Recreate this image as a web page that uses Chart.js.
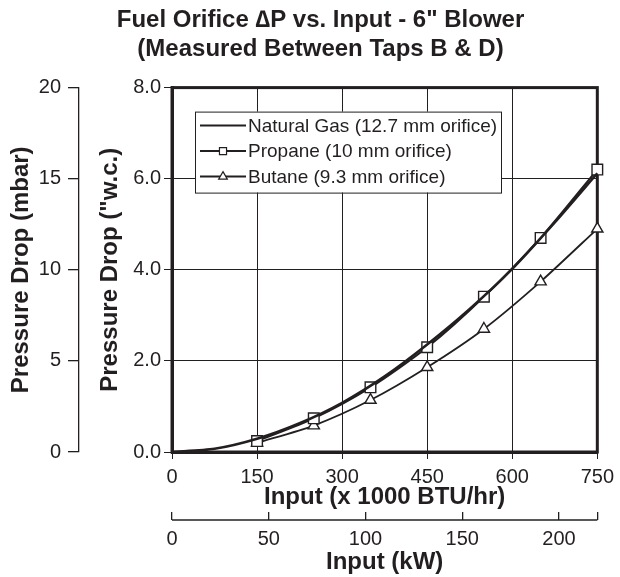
<!DOCTYPE html>
<html>
<head>
<meta charset="utf-8">
<script src="https://cdn.jsdelivr.net/npm/chart.js@4.4.1/dist/chart.umd.min.js"></script>
<style>
  body { margin: 0; background: #fff; }
</style>
</head>
<body>
<canvas id="graficoOrificio" width="620" height="577"></canvas>
<script>
// Datos (entrada en miles de BTU/hr, caida en pulgadas de columna de agua)
const gasNaturalEntrada = [0, 75, 150, 225, 300, 375, 450, 525, 600, 675, 750];
const gasNaturalCaida = [0, 0.07, 0.29, 0.63, 1.08, 1.66, 2.36, 3.14, 4.02, 5.04, 6.12];
const propanoEntrada = [150, 250, 350, 450, 550, 650, 750];
const propanoCaida = [0.24, 0.74, 1.42, 2.30, 3.41, 4.70, 6.20];
const butanoEntrada = [150, 250, 350, 450, 550, 650, 750];
const butanoCaida = [0.20, 0.58, 1.14, 1.86, 2.70, 3.74, 4.90];

const marcasKw = [0, 50, 100, 150, 200];
const etiquetas = ['Natural Gas (12.7 mm orifice)', 'Propane (10 mm orifice)', 'Butane (9.3 mm orifice)'];
const titulo = ['Fuel Orifice \u2206P vs. Input - 6" Blower', '(Measured Between Taps B & D)'];

const KW_POR_MBTU = 0.29307;   // 1000 BTU/hr -> kW
const NEGRO = '#231f20';

const puntos = (xs, ys) => xs.map((x, i) => ({ x: x, y: ys[i] }));

Chart.defaults.font.family = '"Liberation Sans", Arial, Helvetica, sans-serif';
Chart.defaults.color = NEGRO;

// Marco grueso alrededor del area de trazado
const marco = {
    id: 'marco',
    beforeDatasetsDraw(chart) {
        const { ctx, chartArea } = chart;
        ctx.save();
        ctx.strokeStyle = NEGRO;
        ctx.lineWidth = 3;
        ctx.strokeRect(chartArea.left, chartArea.top, chartArea.right - chartArea.left, chartArea.bottom - chartArea.top);
        ctx.restore();
    }
};

// Linea del eje en kW por debajo de las marcas (las marcas suben desde la linea)
const ejeKw = {
    id: 'ejeKw',
    afterDraw(chart) {
        const s = chart.scales.x2;
        const y = s.top + s.options.grid.tickLength;
        const ctx = chart.ctx;
        ctx.save();
        ctx.strokeStyle = NEGRO;
        ctx.lineWidth = 1.3;
        ctx.beginPath();
        ctx.moveTo(s.getPixelForValue(0), y);
        ctx.lineTo(s.getPixelForValue(s.max), y);
        ctx.stroke();
        ctx.restore();
    }
};

// Leyenda dentro del area de trazado
const leyendaInterna = {
    id: 'leyendaInterna',
    afterDatasetsDraw(chart) {
        const { ctx, chartArea } = chart;
        const x = chartArea.left + 23, y = chartArea.top + 24, w = 306, h = 81;
        ctx.save();
        ctx.fillStyle = '#fff';
        ctx.fillRect(x, y, w, h);
        ctx.strokeStyle = NEGRO;
        ctx.lineWidth = 1;
        ctx.strokeRect(x + 0.5, y + 0.5, w, h);
        ctx.font = '19px "Liberation Sans", Arial, sans-serif';
        ctx.textBaseline = 'middle';
        chart.data.datasets.forEach((ds, i) => {
            const cy = y + 14 + i * 25.5;
            ctx.strokeStyle = NEGRO;
            ctx.lineWidth = 2;
            ctx.beginPath();
            ctx.moveTo(x + 5, cy);
            ctx.lineTo(x + 51, cy);
            ctx.stroke();
            if (ds.pointRadius > 0) {
                ctx.fillStyle = '#fff';
                ctx.lineWidth = 1.2;
                Chart.helpers.drawPoint(ctx, { pointStyle: ds.pointStyle, radius: 5, borderWidth: 1.2 }, x + 28, cy);
            }
            ctx.fillStyle = NEGRO;
            ctx.fillText(ds.label, x + 53, cy + 1);
        });
        ctx.restore();
    }
};

// Desplaza el titulo un poco a la derecha como en el original
const tituloDesplazado = {
    id: 'tituloDesplazado',
    afterLayout(chart) {
        if (chart.titleBlock) {
            chart.titleBlock.left += 26;
        }
    }
};

const ctx = document.getElementById('graficoOrificio');
new Chart(ctx, {
    type: 'line',
    data: {
        datasets: [{
            label: etiquetas[0],
            data: puntos(gasNaturalEntrada, gasNaturalCaida),
            borderColor: NEGRO,
            borderWidth: 2.6,
            pointRadius: 0,
            tension: 0.25,
            clip: false
        }, {
            label: etiquetas[1],
            data: puntos(propanoEntrada, propanoCaida),
            borderColor: NEGRO,
            backgroundColor: '#fff',
            borderWidth: 2.2,
            pointStyle: 'rect',
            pointRadius: 7.5,
            pointBorderWidth: 1.4,
            pointBackgroundColor: '#fff',
            pointBorderColor: NEGRO,
            tension: 0.25,
            clip: false
        }, {
            label: etiquetas[2],
            data: puntos(butanoEntrada, butanoCaida),
            borderColor: NEGRO,
            backgroundColor: '#fff',
            borderWidth: 1.8,
            pointStyle: 'triangle',
            pointRadius: 6.5,
            pointBorderWidth: 1.4,
            pointBackgroundColor: '#fff',
            pointBorderColor: NEGRO,
            tension: 0.25,
            clip: false
        }]
    },
    options: {
        responsive: false,
        animation: false,
        layout: { padding: { left: 0, right: 5, top: 0, bottom: 0 } },
        plugins: {
            legend: { display: false },
            tooltip: { enabled: false },
            title: {
                display: true,
                text: titulo,
                font: { size: 24, weight: 'bold', lineHeight: 1.2 },
                color: NEGRO,
                padding: { top: 6, bottom: 24 }
            }
        },
        scales: {
            x: {
                type: 'linear',
                position: 'bottom',
                min: 0,
                max: 750,
                weight: 0,
                ticks: { stepSize: 150, font: { size: 20 }, padding: 6, maxRotation: 0 },
                grid: { color: NEGRO, lineWidth: 1, tickLength: 7 },
                border: { color: NEGRO, width: 3 },
                title: { display: true, text: 'Input (x 1000 BTU/hr)', font: { size: 24, weight: 'bold' }, padding: { top: 0, bottom: 0 } },
                afterFit(scale) { scale.height = 60; }
            },
            x2: {
                type: 'linear',
                position: 'bottom',
                min: 0,
                max: 750 * KW_POR_MBTU,
                weight: 1,
                ticks: {
                    font: { size: 20 },
                    padding: 7,
                    maxRotation: 0,
                    autoSkip: false,
                    callback: (v) => (marcasKw.includes(v) ? v : '')
                },
                afterBuildTicks(scale) {
                    scale.ticks = marcasKw.concat([scale.max]).map(v => ({ value: v }));
                },
                grid: { drawOnChartArea: false, color: NEGRO, lineWidth: 1.3, tickLength: 8 },
                border: { display: false },
                title: { display: true, text: 'Input (kW)', font: { size: 24, weight: 'bold' }, padding: { top: 0, bottom: 0 } },
                afterFit(scale) { scale.height = 65; }
            },
            y: {
                type: 'linear',
                position: 'left',
                min: 0,
                max: 8,
                weight: 0,
                ticks: { stepSize: 2, font: { size: 20 }, padding: 3, callback: (v) => v.toFixed(1) },
                grid: { color: NEGRO, lineWidth: 1, tickLength: 8 },
                border: { color: NEGRO, width: 3 },
                title: { display: true, text: 'Pressure Drop ("w.c.)', font: { size: 24, weight: 'bold' }, padding: { top: 17, bottom: 0 } },
                afterFit(scale) { scale.width = 93; }
            },
            y2: {
                type: 'linear',
                position: 'left',
                min: 0,
                max: 20,
                weight: 1,
                ticks: { stepSize: 5, font: { size: 20 }, padding: 7 },
                grid: { drawOnChartArea: false, color: NEGRO, lineWidth: 1.3, tickLength: 11 },
                border: { color: NEGRO, width: 1.3 },
                title: { display: true, text: 'Pressure Drop (mbar)', font: { size: 24, weight: 'bold' }, padding: { top: 7, bottom: 0 } },
                afterFit(scale) { scale.width = 79; }
            }
        }
    },
    plugins: [marco, ejeKw, leyendaInterna, tituloDesplazado]
});
</script>
</body>
</html>
